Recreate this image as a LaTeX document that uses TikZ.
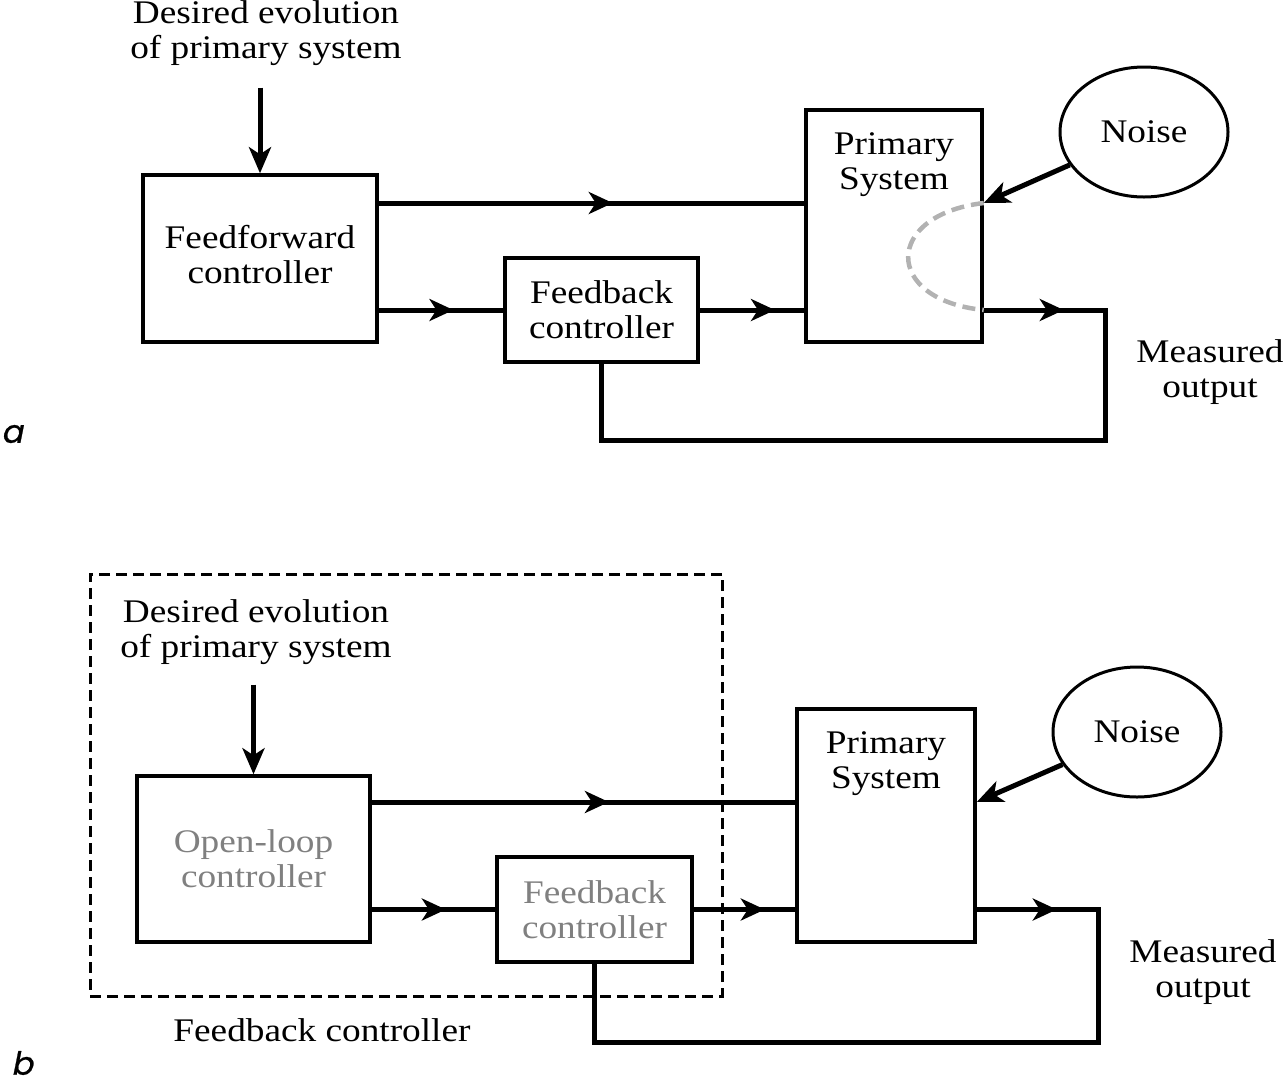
\documentclass[tikz,border=0pt]{standalone}
\usepackage{fontspec}
\setmainfont[FakeStretch=1.13]{Liberation Serif}
\newfontfamily\tagfont[FakeSlant=0.2, FakeBold=0.8]{Poppins}
\usetikzlibrary{arrows.meta,decorations.markings,shapes.geometric}
\newcommand{\bigsz}{\fontsize{33}{35}\selectfont}

\begin{document}
\begin{tikzpicture}[
  x=1pt, y=-1pt,
  box/.style={draw, line width=3.5pt, align=center, inner sep=0pt, font=\bigsz},
  noise/.style={draw, ellipse, line width=3pt, minimum width=168pt, minimum height=130pt, inner sep=0pt, font=\bigsz},
  txt/.style={align=center, inner sep=0pt, font=\bigsz},
  dim/.style={text=black!50},
  tag/.style={font=\tagfont\fontsize{32}{34}\selectfont, inner sep=0pt},
  wire/.style={line width=5pt},
  flow/.style={wire, postaction={decorate}, decoration={markings, mark=at position #1 with {\arrow{Stealth[length=24pt,width=22pt,inset=7pt]}}}},
  feed/.style={-{Stealth[length=26pt,width=22pt,inset=7pt]}, line width=5pt},
  leak/.style={draw=black!30, line width=4.5pt, dash pattern=on 13pt off 7pt},
  group/.style={draw, line width=3pt, dash pattern=on 11pt off 6pt},
]
  \useasboundingbox (0,0) rectangle (1285,1085);

  % panel a: feedforward and feedback
  \node[txt] (goalA) at (266,33) {Desired evolution\\of primary system};
  \node[box, minimum width=234pt, minimum height=167pt] (ffA) at (260,258.5) {\raisebox{5pt}{\begin{tabular}{@{}c@{}}Feedforward\\controller\end{tabular}}};
  \node[box, minimum width=193pt, minimum height=104pt] (fbA) at (601.5,310) {Feedback\\controller};
  \node[box, minimum width=176pt, minimum height=232pt,
    label={[txt, anchor=north, yshift=-24pt]north:{Primary\\System}}] (psA) at (894,226) {};
  \node[noise] (noiseA) at (1144,132) {Noise};
  \node[txt] (outA) at (1210,372) {Measured\\output};
  \node[tag] (tagA) at (12,434) {a};
  \coordinate (cornA) at (1105,440);

  \draw[feed, shorten <=22pt] (goalA.south -| ffA.north) -- (ffA.north);
  \draw[flow=0.55] (ffA.east |- 0,203) -- (psA.west |- 0,203);
  \draw[flow=0.6] (ffA.east |- fbA.west) -- (fbA.west);
  \draw[flow=0.72] (fbA.east) -- (psA.west |- fbA.east);
  \draw[flow=80pt] (psA.east |- fbA.east) -| (cornA) -| (fbA.south);
  \draw[feed] (noiseA) -- (psA.east |- 0,203);
  % disturbance leaking through the plant
  \draw[leak] (psA.east |- 0,203) .. controls (883,215) and (883,300) .. (psA.east |- fbA.east);

  % panel b: the whole controller seen as one feedback controller
  \node[group, minimum width=632pt, minimum height=422pt] (ctrlB) at (406,785) {};
  \node[txt] (goalB) at (256,632) {Desired evolution\\of primary system};
  \node[box, dim, minimum width=233pt, minimum height=166pt] (olB) at (253.5,859) {Open-loop\\controller};
  \node[box, dim, minimum width=195pt, minimum height=105pt] (fbB) at (594.5,909.5) {Feedback\\controller};
  \node[box, minimum width=178pt, minimum height=233pt,
    label={[txt, anchor=north, yshift=-24pt]north:{Primary\\System}}] (psB) at (886,825.5) {};
  \node[noise] (noiseB) at (1137,732) {Noise};
  \node[txt] (outB) at (1203,972) {Measured\\output};
  \node[txt] (grpB) at (322,1030) {Feedback controller};
  \node[tag] (tagB) at (22,1063) {b};
  \coordinate (cornB) at (1098,1042);

  \draw[feed, shorten <=20pt] (goalB.south -| olB.north) -- (olB.north);
  \draw[flow=0.56] (olB.east |- 0,802) -- (psB.west |- 0,802);
  \draw[flow=0.6] (olB.east |- fbB.west) -- (fbB.west);
  \draw[flow=0.7] (fbB.east) -- (psB.west |- fbB.east);
  \draw[flow=80pt] (psB.east |- fbB.east) -| (cornB) -| (fbB.south);
  \draw[feed] (noiseB) -- (psB.east |- 0,802);
\end{tikzpicture}
\end{document}
